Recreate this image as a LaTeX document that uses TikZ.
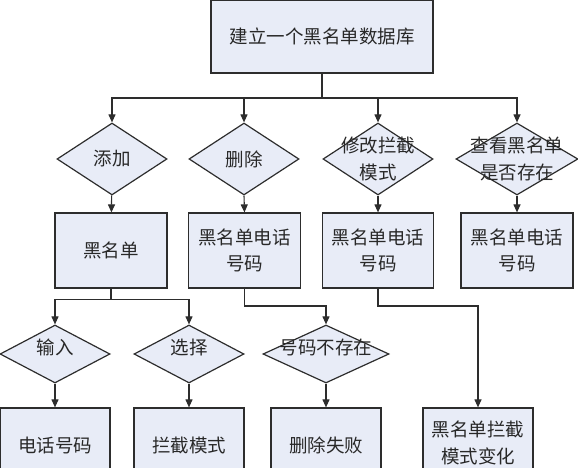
\documentclass[tikz,border=0pt]{standalone}
\usepackage{fontspec}
\setmainfont{Noto Sans CJK SC}
\usetikzlibrary{arrows.meta,shapes.geometric}
\definecolor{boxfill}{RGB}{232,236,247}
\definecolor{edge}{RGB}{45,45,45}
\definecolor{txt}{RGB}{40,40,40}
\tikzset{
  box/.style={rectangle,draw=edge,fill=boxfill,line width=1.2pt,minimum width=#1,minimum height=75pt,inner sep=0pt},
  box/.default=111pt,
  dia/.style={diamond,draw=edge,fill=boxfill,line width=1.2pt,inner sep=0pt,aspect=1.5,minimum width=#1},
  lbl/.style={align=center,text=txt,font=\fontsize{18.5}{26.5}\selectfont,inner sep=0pt},
  arr/.style={draw=edge,line width=1.1pt,-{Triangle[length=8pt,width=7pt]}},
  ln/.style={draw=edge,line width=1.1pt}
}
\begin{document}
\begin{tikzpicture}[x=1pt,y=-1pt]
\useasboundingbox (0,0) rectangle (578,468);
% top
\node[box=222pt,minimum height=73pt] (top) at (322,36.5) {};
\node[lbl] (toptext) at (top) {建立一个黑名单数据库};
% row 1 diamonds
\node[dia=110pt,minimum height=72pt,aspect=1.53] (d1) at (112,159) {};
\node[dia=110pt,minimum height=72pt,aspect=1.53] (d2) at (244,159) {};
\node[dia=110pt,minimum height=72pt,aspect=1.53] (d3) at (378,159) {};
\node[dia=122pt,minimum height=72pt,aspect=1.7] (d4) at (517,159) {};
\node[lbl] (t1) at (d1) {添加};
\node[lbl] (t2) at (d2) {删除};
\node[lbl] (t3) at (d3) {修改拦截\\模式};
\node[lbl] (t4) at (d4) {查看黑名单\\是否存在};
% row 2 boxes
\node[box=112pt] (b1) at (111,250.5) {};
\node[box=112pt] (b2) at (244.5,250.5) {};
\node[box=111pt] (b3) at (378,250.5) {};
\node[box=112pt] (b4) at (517,250.5) {};
\node[lbl] (u1) at (b1) {黑名单};
\node[lbl] (u2) at (b2) {黑名单电话\\号码};
\node[lbl] (u3) at (b3) {黑名单电话\\号码};
\node[lbl] (u4) at (b4) {黑名单电话\\号码};
% row 3 diamonds
\node[dia=110pt,minimum height=58pt,aspect=1.9] (e1) at (55,354) {};
\node[dia=110pt,minimum height=58pt,aspect=1.9] (e2) at (189,354) {};
\node[dia=126pt,minimum height=58pt,aspect=2.17] (e3) at (326,354) {};
\node[lbl] (v1) at (55,347) {输入};
\node[lbl] (v2) at (189,347) {选择};
\node[lbl] (v3) at (326,347) {号码不存在};
% row 3 boxes
\node[box=110pt,minimum height=74pt] (f1) at (55,445) {};
\node[box=110pt,minimum height=74pt] (f2) at (189,445) {};
\node[box=110pt,minimum height=74pt] (f3) at (326,445) {};
\node[box=110pt,minimum height=74pt] (f4) at (478,445) {};
\node[lbl] (w1) at (55,445) {电话号码};
\node[lbl] (w2) at (189,445) {拦截模式};
\node[lbl] (w3) at (326,445) {删除失败};
\node[lbl] (w4) at (478,443) {黑名单拦截\\模式变化};
% connectors
\coordinate (bus) at (322,98);
\draw[ln] (top.south) -- (bus);
\draw[arr] (bus) -| (d1.north);
\draw[arr] (bus) -| (d2.north);
\draw[arr] (bus) -| (d3.north);
\draw[arr] (bus) -| (d4.north);
\draw[arr] (d1) -- (b1);
\draw[arr] (d2.south) -- (b2.north);
\draw[arr] (d3.south) -- (b3.north);
\draw[arr] (d4.south) -- (b4.north);
\coordinate (s1) at (111,299.5);
\draw[ln] (b1.south) -- (s1);
\draw[arr] (s1) -| (e1.north);
\draw[arr] (s1) -| (e2.north);
\coordinate (s2) at (244.5,306);
\draw[arr] (b2.south) -- (s2) -| (e3.north);
\coordinate (s3) at (378,306);
\draw[arr] (b3.south) -- (s3) -| (f4.north);
\draw[arr] (e1.south) -- (f1.north);
\draw[arr] (e2.south) -- (f2.north);
\draw[arr] (e3.south) -- (f3.north);
\end{tikzpicture}
\end{document}
